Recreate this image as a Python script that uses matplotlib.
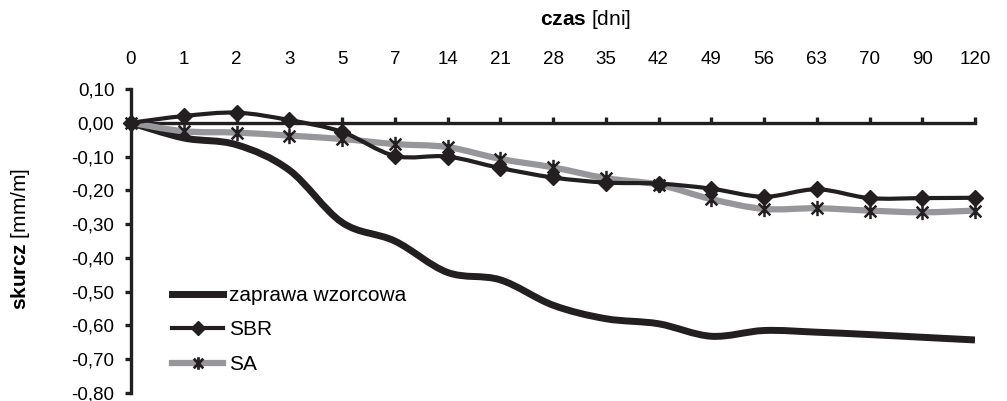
import numpy as np
import matplotlib
matplotlib.use('Agg')
import matplotlib.pyplot as plt
from matplotlib.path import Path
from matplotlib.patches import PathPatch
from matplotlib.lines import Line2D
from matplotlib.ticker import FuncFormatter

# czas [dni] - categories on the top axis
days = ['0', '1', '2', '3', '5', '7', '14', '21', '28', '35', '42', '49', '56', '63', '70', '90', '120']

# skurcz [mm/m]
zaprawa = [0.0, -0.045, -0.065, -0.14, -0.295, -0.35, -0.443, -0.465, -0.54, -0.58,
           -0.595, -0.632, -0.615, -0.62, -0.627, -0.635, -0.643]
sbr = [0.0, 0.02, 0.03, 0.008, -0.027, -0.098, -0.10, -0.134, -0.162, -0.177,
       -0.18, -0.195, -0.219, -0.197, -0.223, -0.223, -0.222]
sa = [0.0, -0.025, -0.029, -0.038, -0.048, -0.063, -0.072, -0.107, -0.132, -0.164,
      -0.183, -0.226, -0.255, -0.253, -0.26, -0.265, -0.26]

BLACK = '#231f20'
GRAY = '#97979b'

plt.rcParams['font.family'] = 'Liberation Sans'
plt.rcParams['font.size'] = 13.5
plt.rcParams['mathtext.fontset'] = 'custom'
plt.rcParams['mathtext.rm'] = 'Liberation Sans'
plt.rcParams['mathtext.bf'] = 'Liberation Sans:bold'

# star marker like Excel's: X plus vertical bar
star = Path([(-1, -1), (1, 1), (-1, 1), (1, -1), (0, -1.3), (0, 1.3)],
            [Path.MOVETO, Path.LINETO, Path.MOVETO, Path.LINETO, Path.MOVETO, Path.LINETO])


def smooth_path(y):
    # Excel-style smoothed line (Bezier through the data points)
    pts = np.column_stack([np.arange(len(y)), y])
    verts = [pts[0]]
    codes = [Path.MOVETO]
    n = len(pts)
    for i in range(n - 1):
        p0 = pts[max(i - 1, 0)]
        p1 = pts[i]
        p2 = pts[i + 1]
        p3 = pts[min(i + 2, n - 1)]
        verts += [p1 + (p2 - p0) / 6, p2 - (p3 - p1) / 6, p2]
        codes += [Path.CURVE4] * 3
    return Path(verts, codes)


fig = plt.figure(figsize=(10.07, 4.01), dpi=100)
ax = fig.add_axes([131 / 1007, 8 / 401, 844 / 1007, 304 / 401])

x = np.arange(len(days))

ax.add_patch(PathPatch(smooth_path(zaprawa), fill=False, ec=BLACK, lw=5, zorder=3))
ax.add_patch(PathPatch(smooth_path(sa), fill=False, ec=GRAY, lw=4.5, zorder=4))
ax.plot(x, sa, ls='none', marker=star, ms=11, mec=BLACK, mew=1.8, zorder=5, clip_on=False)
ax.add_patch(PathPatch(smooth_path(sbr), fill=False, ec=BLACK, lw=3, zorder=6))
ax.plot(x, sbr, ls='none', marker='D', ms=8, mfc=BLACK, mec=BLACK, mew=1, zorder=7, clip_on=False)

ax.set_xlim(0, 16)
ax.set_ylim(-0.8, 0.1)

ax.set_xticks(x)
ax.set_xticklabels(days)
ax.set_yticks([round(v, 2) for v in np.linspace(-0.8, 0.1, 10)])
ax.yaxis.set_major_formatter(FuncFormatter(lambda v, p: f'{v:.2f}'.replace('.', ',') if abs(v) > 1e-9 else '0,00'))

for s in ['top', 'right']:
    ax.spines[s].set_visible(False)
ax.spines['bottom'].set_position(('data', 0))
for s in ['bottom', 'left']:
    ax.spines[s].set_linewidth(2.4)
    ax.spines[s].set_color(BLACK)
    ax.spines[s].set_zorder(2)

ax.tick_params(axis='x', direction='in', length=4, width=2.4, color=BLACK,
               bottom=True, top=False, labelbottom=False, labeltop=True, pad=15)
ax.tick_params(axis='y', direction='out', length=4, width=2.4, color=BLACK, pad=8)

ax.set_xlabel(r'$\mathbf{czas}$ [dni]', fontsize=15)
ax.xaxis.set_label_position('top')
ax.xaxis.set_label_coords(0.538, 1.227)
ax.xaxis.label.set_va('center')

ax.set_ylabel(r'$\mathbf{skurcz}$ [mm/m]', fontsize=15)
ax.yaxis.set_label_coords(-0.131, 0.507)
ax.yaxis.label.set_va('center')

handles = [
    Line2D([], [], color=BLACK, lw=5),
    Line2D([], [], color=BLACK, lw=3, marker='D', ms=7, mfc=BLACK, mec=BLACK),
    Line2D([], [], color=GRAY, lw=4.5, marker=star, ms=9, mec=BLACK, mew=2),
]
fig.legend(handles, ['zaprawa wzorcowa', 'SBR', 'SA'], loc='upper left',
           bbox_to_anchor=(172 / 1007, 1 - 286 / 401), frameon=False, fontsize=15,
           borderpad=0, borderaxespad=0, handlelength=2.45, handletextpad=0.3,
           labelspacing=0.74)

fig.savefig('out.png', dpi=100)
